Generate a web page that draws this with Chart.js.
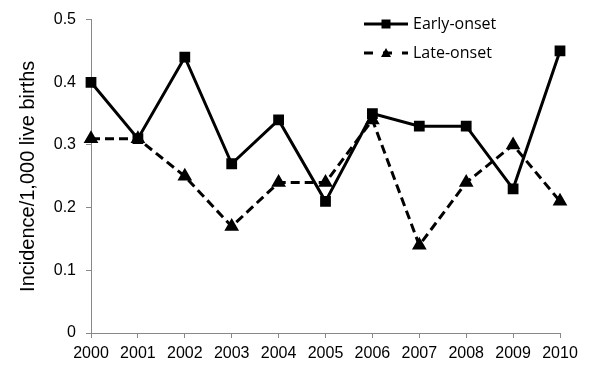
<!DOCTYPE html>
<html><head><meta charset="utf-8">
<script src="https://cdn.jsdelivr.net/npm/chart.js@4/dist/chart.umd.min.js"></script>
<style>html,body{margin:0;padding:0;background:#fff}#w{width:600px;height:372px}</style>
</head><body><div id="w"><canvas id="c"></canvas></div>
<script>
const years = ['2000','2001','2002','2003','2004','2005','2006','2007','2008','2009','2010'];
const earlyOnset = [0.40,0.31,0.44,0.27,0.34,0.21,0.35,0.33,0.33,0.23,0.45];
const lateOnset = [0.31,0.31,0.25,0.17,0.24,0.24,0.34,0.14,0.24,0.30,0.21];
const seriesNames = ['Early-onset','Late-onset'];
const yTitle = 'Incidence/1,000 live births';

const legendPlugin = {
  id:'customLegend',
  afterDraw(chart){
    const ctx = chart.ctx;
    const x0 = 364, x1 = 408;
    const ys = [24, 53];
    chart.data.datasets.forEach((ds,i)=>{
      const y = ys[i];
      ctx.save();
      ctx.strokeStyle = '#000'; ctx.lineWidth = 3;
      ctx.setLineDash(ds.borderDash ? [9,10] : []);
      ctx.beginPath(); ctx.moveTo(x0,y); ctx.lineTo(x1,y); ctx.stroke();
      ctx.setLineDash([]);
      ctx.fillStyle = '#000';
      const cx = (x0+x1)/2;
      if (ds.pointStyle === 'rect') { ctx.fillRect(cx-4.5,y-4.5,9,9); }
      else { ctx.beginPath(); ctx.moveTo(cx,y-5); ctx.lineTo(cx+5,y+4); ctx.lineTo(cx-5,y+4); ctx.closePath(); ctx.fill(); }
      ctx.font = '16px "Open Sans", "Liberation Sans", sans-serif';
      ctx.textBaseline = 'middle'; ctx.textAlign = 'left';
      ctx.fillText(ds.label, 413, y);
      ctx.restore();
    });
  }
};

new Chart(document.getElementById('c'), {
  type:'line',
  data:{labels:years, datasets:[
    {label:seriesNames[0], data:earlyOnset, borderColor:'#000', backgroundColor:'#000', borderWidth:3,
     pointStyle:'rect', pointRadius:5.5, pointHoverRadius:5.5, tension:0},
    {label:seriesNames[1], data:lateOnset, borderColor:'#000', backgroundColor:'#000', borderWidth:3,
     borderDash:[9,5], pointStyle:'triangle', pointRadius:5.5, pointHoverRadius:5.5, tension:0}
  ]},
  options:{
    responsive:true, maintainAspectRatio:false, animation:false,
    layout:{padding:{top:18, right:40, left:16, bottom:0}},
    plugins:{legend:{display:false}, tooltip:{enabled:false}},
    scales:{
      x:{offset:false,
         grid:{display:true, drawOnChartArea:false, drawTicks:true, tickLength:5, color:'#888'},
         border:{color:'#888', width:1},
         ticks:{color:'#000', font:{family:'"Liberation Sans", Arial, sans-serif', size:16}, padding:6, maxRotation:0, autoSkip:false},
         afterFit(s){ s.height = 39; }
      },
      y:{min:0, max:0.5,
         grid:{display:true, drawOnChartArea:false, drawTicks:true, tickLength:5, color:'#888'},
         border:{color:'#888', width:1},
         ticks:{stepSize:0.1, color:'#000', font:{family:'"Liberation Sans", Arial, sans-serif', size:16}, padding:10,
                callback:v=>Number(v.toFixed(1)).toString()},
         title:{display:true, text:yTitle, color:'#000', font:{family:'"Liberation Sans", Arial, sans-serif', size:20}, padding:{top:0,bottom:6}},
         afterFit(s){ s.width = 75; }
      }
    }
  },
  plugins:[legendPlugin]
});
</script></body></html>
